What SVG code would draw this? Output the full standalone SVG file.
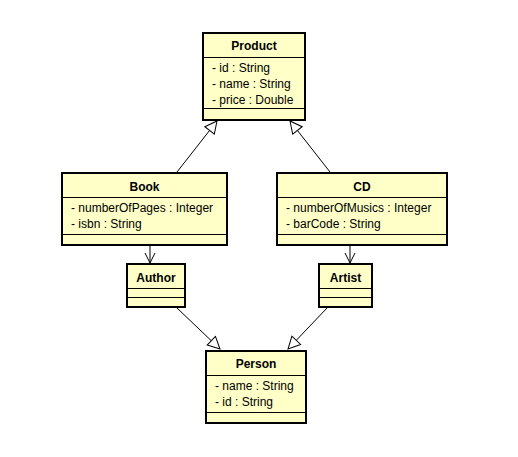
<svg xmlns="http://www.w3.org/2000/svg" width="518" height="457" viewBox="0 0 518 457">
<defs>
<style>
.box{fill:#FFFFC8;stroke:#000;stroke-width:2}
.sep{stroke:#000;stroke-width:1}
.t{font-family:"Liberation Sans",Arial,sans-serif;font-size:12px;font-weight:bold;text-anchor:middle;fill:#000}
.a{font-family:"Liberation Sans",Arial,sans-serif;font-size:12px;fill:#000}
.c{stroke:#000;stroke-width:1;fill:none}
</style>
<marker id="tri" markerWidth="14" markerHeight="14" refX="13" refY="7" orient="auto" markerUnits="userSpaceOnUse">
<path d="M1,1 L13,7 L1,13 Z" fill="#fff" stroke="#000" stroke-width="1"/>
</marker>
<marker id="open" markerWidth="12" markerHeight="12" refX="11" refY="6" orient="auto" markerUnits="userSpaceOnUse">
<path d="M1,1 L11,6 L1,11" fill="none" stroke="#000" stroke-width="1"/>
</marker>
</defs>
<rect width="518" height="457" fill="#fff"/>
<g id="connectors">
<line class="c" x1="177" y1="172" x2="217" y2="121" marker-end="url(#tri)"/>
<line class="c" x1="330" y1="172" x2="290" y2="121" marker-end="url(#tri)"/>
<line class="c" x1="150" y1="246" x2="150" y2="263" marker-end="url(#open)"/>
<line class="c" x1="350" y1="246" x2="350" y2="263" marker-end="url(#open)"/>
<line class="c" x1="177" y1="308" x2="220" y2="349" marker-end="url(#tri)"/>
<line class="c" x1="327" y1="308" x2="288" y2="349" marker-end="url(#tri)"/>
</g>
<g id="Product">
<rect class="box" x="203" y="33" width="102" height="87"/>
<line class="sep" x1="203" y1="57.5" x2="305" y2="57.5"/>
<line class="sep" x1="203" y1="108.5" x2="305" y2="108.5"/>
<text class="t" x="254" y="50">Product</text>
<text class="a" x="212" y="72">- id : String</text>
<text class="a" x="212" y="88">- name : String</text>
<text class="a" x="212" y="104">- price : Double</text>
</g>
<g id="Book">
<rect class="box" x="62" y="173" width="165" height="72"/>
<line class="sep" x1="62" y1="197.5" x2="227" y2="197.5"/>
<line class="sep" x1="62" y1="234.5" x2="227" y2="234.5"/>
<text class="t" x="144.5" y="191">Book</text>
<text class="a" x="71" y="212">- numberOfPages : Integer</text>
<text class="a" x="71" y="228">- isbn : String</text>
</g>
<g id="CD">
<rect class="box" x="277" y="173" width="170" height="72"/>
<line class="sep" x1="277" y1="197.5" x2="447" y2="197.5"/>
<line class="sep" x1="277" y1="234.5" x2="447" y2="234.5"/>
<text class="t" x="362" y="191">CD</text>
<text class="a" x="286" y="212">- numberOfMusics : Integer</text>
<text class="a" x="286" y="228">- barCode : String</text>
</g>
<g id="Author">
<rect class="box" x="127" y="264" width="58" height="43"/>
<line class="sep" x1="127" y1="288.5" x2="185" y2="288.5"/>
<line class="sep" x1="127" y1="297.5" x2="185" y2="297.5"/>
<text class="t" x="156" y="282">Author</text>
</g>
<g id="Artist">
<rect class="box" x="319" y="264" width="53" height="43"/>
<line class="sep" x1="319" y1="288.5" x2="372" y2="288.5"/>
<line class="sep" x1="319" y1="297.5" x2="372" y2="297.5"/>
<text class="t" x="345.5" y="282">Artist</text>
</g>
<g id="Person">
<rect class="box" x="206" y="351" width="100" height="72"/>
<line class="sep" x1="206" y1="375.5" x2="306" y2="375.5"/>
<line class="sep" x1="206" y1="412.5" x2="306" y2="412.5"/>
<text class="t" x="256" y="368">Person</text>
<text class="a" x="215" y="390">- name : String</text>
<text class="a" x="215" y="406">- id : String</text>
</g>
</svg>
